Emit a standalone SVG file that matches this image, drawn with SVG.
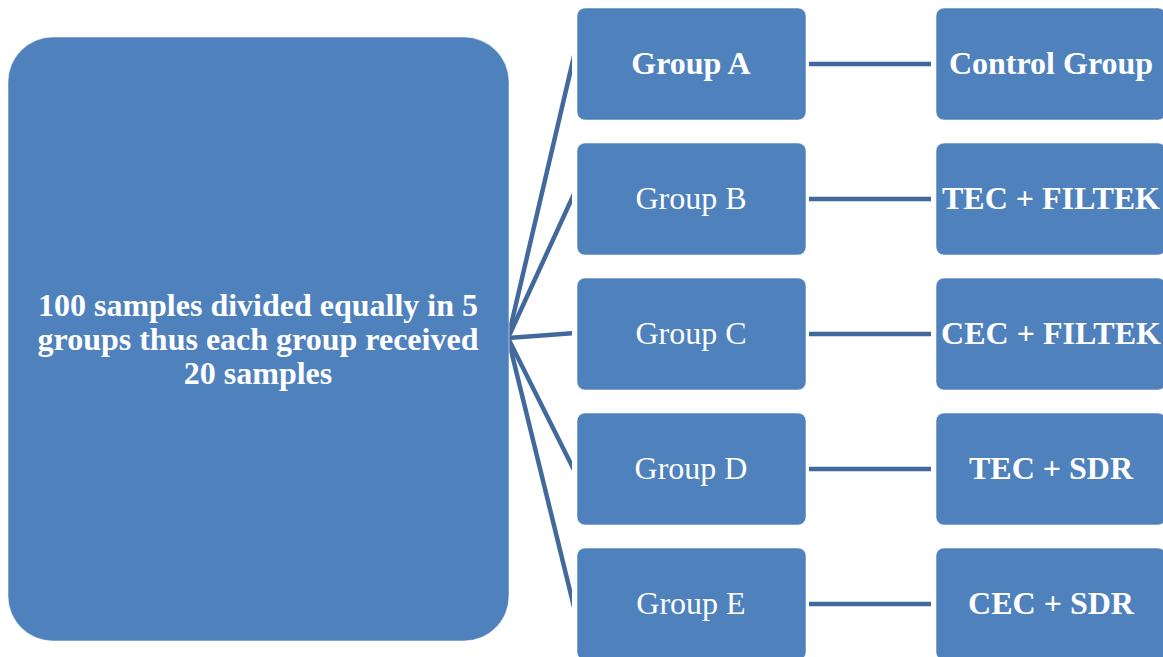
<svg xmlns="http://www.w3.org/2000/svg" width="1163" height="657" viewBox="0 0 1163 657">
  <style>
    .box { fill: #4F81BD; stroke: #FFFFFF; stroke-opacity: 0.55; stroke-width: 1; }
    .conn { stroke: #41699C; stroke-width: 4.5; fill: none; }
    .t { font-family: "Liberation Serif", "Times New Roman", serif; font-size: 32px; fill: #FFFFFF; text-anchor: middle; }
    .b { font-weight: bold; }
  </style>
  <defs>
    <clipPath id="fanclip">
      <rect x="0" y="0" width="572" height="657"/>
    </clipPath>
  </defs>
  <rect width="1163" height="657" fill="#FFFFFF"/>
  <g id="connectors">
    <g clip-path="url(#fanclip)">
      <line class="conn" x1="508" y1="338" x2="574" y2="56"/>
      <line class="conn" x1="508" y1="338" x2="574" y2="194"/>
      <line class="conn" x1="508" y1="338" x2="574" y2="333"/>
      <line class="conn" x1="508" y1="338" x2="574" y2="470"/>
      <line class="conn" x1="508" y1="338" x2="574" y2="607"/>
    </g>
    <line class="conn" x1="809" y1="64" x2="931" y2="64"/>
    <line class="conn" x1="809" y1="199" x2="931" y2="199"/>
    <line class="conn" x1="809" y1="334" x2="931" y2="334"/>
    <line class="conn" x1="809" y1="469" x2="931" y2="469"/>
    <line class="conn" x1="809" y1="604" x2="931" y2="604"/>
  </g>
  <g id="node-main">
    <rect class="box" x="8" y="37" width="501" height="604" rx="45" ry="45"/>
    <text class="t b" x="258" y="316">100 samples divided equally in 5</text>
    <text class="t b" x="258" y="350">groups thus each group received</text>
    <text class="t b" x="258" y="384">20 samples</text>
  </g>
  <g id="node-group-a">
    <rect class="box" x="577" y="8" width="229" height="112" rx="8" ry="8"/>
    <text class="t b" x="691" y="74">Group A</text>
  </g>
  <g id="node-group-b">
    <rect class="box" x="577" y="143" width="229" height="112" rx="8" ry="8"/>
    <text class="t" x="691" y="209">Group B</text>
  </g>
  <g id="node-group-c">
    <rect class="box" x="577" y="278" width="229" height="112" rx="8" ry="8"/>
    <text class="t" x="691" y="344">Group C</text>
  </g>
  <g id="node-group-d">
    <rect class="box" x="577" y="413" width="229" height="112" rx="8" ry="8"/>
    <text class="t" x="691" y="479">Group D</text>
  </g>
  <g id="node-group-e">
    <rect class="box" x="577" y="548" width="229" height="112" rx="8" ry="8"/>
    <text class="t" x="691" y="614">Group E</text>
  </g>
  <g id="node-control">
    <rect class="box" x="936" y="8" width="230" height="112" rx="8" ry="8"/>
    <text class="t b" x="1051" y="74">Control Group</text>
  </g>
  <g id="node-tec-filtek">
    <rect class="box" x="936" y="143" width="230" height="112" rx="8" ry="8"/>
    <text class="t b" x="1051" y="209">TEC + FILTEK</text>
  </g>
  <g id="node-cec-filtek">
    <rect class="box" x="936" y="278" width="230" height="112" rx="8" ry="8"/>
    <text class="t b" x="1051" y="344">CEC + FILTEK</text>
  </g>
  <g id="node-tec-sdr">
    <rect class="box" x="936" y="413" width="230" height="112" rx="8" ry="8"/>
    <text class="t b" x="1051" y="479">TEC + SDR</text>
  </g>
  <g id="node-cec-sdr">
    <rect class="box" x="936" y="548" width="230" height="112" rx="8" ry="8"/>
    <text class="t b" x="1051" y="614">CEC + SDR</text>
  </g>
</svg>
